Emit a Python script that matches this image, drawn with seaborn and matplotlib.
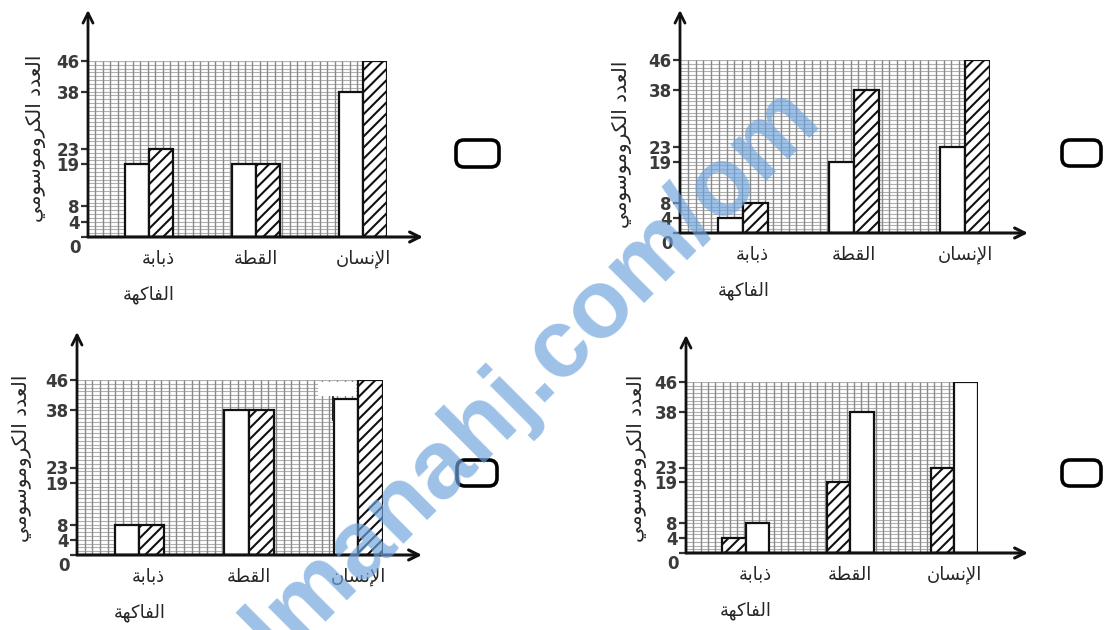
import numpy as np
import pandas as pd
import matplotlib
matplotlib.use('Agg')
import matplotlib.pyplot as plt
import seaborn as sns
from matplotlib.patches import FancyBboxPatch, Rectangle

# categories and labels
species = ['ذبابة الفاكهة', 'القطة', 'الإنسان']
y_ticks = [0, 4, 8, 19, 23, 38, 46]
y_label = 'العدد الكروموسومي'
watermark = 'almanahj.com/om'

# chromosome counts for each of the four answer options
a_plain = [4, 19, 23]
a_hatched = [8, 38, 46]
b_plain = [19, 19, 38]
b_hatched = [23, 19, 46]
c_plain = [8, 38, 46]
c_hatched = [4, 19, 23]
d_plain = [8, 38, 41]
d_hatched = [8, 38, 46]

# --- minimal arabic shaping (matplotlib has no text shaping) ---
FORMS = {
    'ا': ('\uFE8D', '\uFE8E', None, None),
    'إ': ('\uFE87', '\uFE88', None, None),
    'ب': ('\uFE8F', '\uFE90', '\uFE91', '\uFE92'),
    'ة': ('\uFE93', '\uFE94', None, None),
    'د': ('\uFEA9', '\uFEAA', None, None),
    'ذ': ('\uFEAB', '\uFEAC', None, None),
    'ر': ('\uFEAD', '\uFEAE', None, None),
    'س': ('\uFEB1', '\uFEB2', '\uFEB3', '\uFEB4'),
    'ط': ('\uFEC1', '\uFEC2', '\uFEC3', '\uFEC4'),
    'ع': ('\uFEC9', '\uFECA', '\uFECB', '\uFECC'),
    'ف': ('\uFED1', '\uFED2', '\uFED3', '\uFED4'),
    'ق': ('\uFED5', '\uFED6', '\uFED7', '\uFED8'),
    'ك': ('\uFED9', '\uFEDA', '\uFEDB', '\uFEDC'),
    'ل': ('\uFEDD', '\uFEDE', '\uFEDF', '\uFEE0'),
    'م': ('\uFEE1', '\uFEE2', '\uFEE3', '\uFEE4'),
    'ن': ('\uFEE5', '\uFEE6', '\uFEE7', '\uFEE8'),
    'ه': ('\uFEE9', '\uFEEA', '\uFEEB', '\uFEEC'),
    'و': ('\uFEED', '\uFEEE', None, None),
    'ي': ('\uFEF1', '\uFEF2', '\uFEF3', '\uFEF4'),
}
LAM_ALEF = {'ا': ('\uFEFB', '\uFEFC'), 'إ': ('\uFEF9', '\uFEFA')}


def shape_line(line):
    out = []
    prev_joins = False
    i = 0
    while i < len(line):
        c = line[i]
        nxt = line[i + 1] if i + 1 < len(line) else ''
        if c not in FORMS:
            out.append(c)
            prev_joins = False
            i += 1
            continue
        if c == 'ل' and nxt in LAM_ALEF:
            out.append(LAM_ALEF[nxt][1 if prev_joins else 0])
            prev_joins = False
            i += 2
            continue
        iso, fin, ini, med = FORMS[c]
        joins_next = ini is not None and nxt in FORMS
        if prev_joins and joins_next:
            out.append(med)
        elif prev_joins:
            out.append(fin)
        elif joins_next:
            out.append(ini)
        else:
            out.append(iso)
        prev_joins = joins_next
        i += 1
    return ''.join(reversed(out))


def ar(text):
    return '\n'.join(shape_line(l) for l in text.split('\n'))


def make_df(plain, hatched):
    return pd.DataFrame({'species': species * 2,
                         'kind': ['plain'] * 3 + ['hatched'] * 3,
                         'count': plain + hatched})


sns.set_style('white')
plt.rcParams['font.family'] = ['DejaVu Sans']
plt.rcParams['hatch.linewidth'] = 1.5

W, H = 1107, 630
fig = plt.figure(figsize=(W / 100, H / 100), dpi=100)

# pixel layout: grid box (l, r, t, b), y arrow top, x arrow tip, ylabel centre, option box
panels = [
    (make_df(b_plain, b_hatched), ['plain', 'hatched'],
     dict(grid=(88, 387, 61, 237), ytop=10, xtip=423, lab=(36, 138), box=(456, 140, 43, 27))),
    (make_df(a_plain, a_hatched), ['plain', 'hatched'],
     dict(grid=(680, 990, 60, 233), ytop=10, xtip=1028, lab=(622, 144), box=(1062, 140, 39, 26))),
    (make_df(d_plain, d_hatched), ['plain', 'hatched'],
     dict(grid=(77, 383, 380, 555), ytop=332, xtip=422, lab=(22, 458), box=(457, 460, 40, 26))),
    (make_df(c_plain, c_hatched), ['hatched', 'plain'],
     dict(grid=(686, 978, 382, 553), ytop=335, xtip=1028, lab=(637, 458), box=(1062, 460, 39, 26))),
]

xlim = (-0.57, 2.225)
for df, hue_order, lay in panels:
    l, r, t, b = lay['grid']
    ax = fig.add_axes([l / W, 1 - b / H, (r - l) / W, (b - t) / H])
    ax.patch.set_alpha(0)

    # graph paper background
    ax.hlines(np.arange(1, 47), *xlim, color='#b0b0b0', lw=0.8, zorder=0.5)
    ax.vlines(np.linspace(*xlim, 41)[1:], 0, 46, color='#8a8a8a', lw=1.0, zorder=0.5)

    sns.barplot(data=df, x='species', y='count', hue='kind', order=species,
                hue_order=hue_order, palette={'plain': 'white', 'hatched': 'white'},
                width=0.45, errorbar=None, edgecolor='#111111', linewidth=1.6,
                saturation=1, legend=False, ax=ax, zorder=2)
    for kind, cont in zip(hue_order, ax.containers):
        if kind == 'hatched':
            for p in cont:
                p.set_hatch('///')

    ax.set_xlim(xlim)
    ax.set_ylim(0, 46)
    for s in ax.spines.values():
        s.set_visible(False)

    # axes with arrow heads
    ax.annotate('', xy=(0, (b - lay['ytop']) / (b - t)), xytext=(0, 0),
                xycoords='axes fraction', annotation_clip=False,
                arrowprops=dict(arrowstyle='->', lw=2, color='#111111',
                                mutation_scale=18, shrinkA=0, shrinkB=0))
    ax.annotate('', xy=((lay['xtip'] - l) / (r - l), 0), xytext=(0, 0),
                xycoords='axes fraction', annotation_clip=False,
                arrowprops=dict(arrowstyle='->', lw=2.2, color='#111111',
                                mutation_scale=18, shrinkA=0, shrinkB=0))

    ax.set_yticks(y_ticks)
    ax.set_yticklabels(['' if v == 0 else str(v) for v in y_ticks],
                       fontweight='bold', color='#3a3a3a', fontsize=12)
    ax.tick_params(axis='y', length=5, width=1.6, color='#333333', pad=1, left=True)
    ax.annotate('0', xy=(0, 0), xycoords='axes fraction', xytext=(-5, -8),
                textcoords='offset points', ha='right', va='center',
                fontweight='bold', color='#3a3a3a', fontsize=12)

    ax.set_xticks(range(len(species)))
    ax.set_xticklabels([ar(s.replace(' ', '\n')) for s in species], fontsize=13,
                       linespacing=2.3, multialignment='right')
    ax.tick_params(axis='x', length=0, pad=9)
    ax.set_xlabel('')
    ax.set_ylabel('')

    lx, ly = lay['lab']
    ax.text((lx - l) / (r - l), (b - ly) / (b - t), ar(y_label), rotation=90,
            transform=ax.transAxes, ha='center', va='center', fontsize=14.5,
            rotation_mode='anchor')

# overlay for answer boxes, scan blemish and watermark
ov = fig.add_axes([0, 0, 1, 1], zorder=10)
ov.set_xlim(0, W)
ov.set_ylim(H, 0)
ov.axis('off')
ov.patch.set_alpha(0)
for _, _, lay in panels:
    x, y, w, h = lay['box']
    ov.add_patch(FancyBboxPatch((x, y), w, h, boxstyle='round,pad=0,rounding_size=8',
                                lw=2.6, ec='black', fc='white'))
ov.add_patch(Rectangle((318, 382), 38, 14, fc='white', ec='none'))
ov.plot([333, 333], [397, 420], color='#222222', lw=1.5)
ov.text(515, 395, watermark, rotation=45, ha='center', va='center', fontsize=70,
        fontweight='bold', color='#6fa3dc', alpha=0.68, family='Liberation Sans',
        rotation_mode='anchor')

fig.savefig('out.png', dpi=100, facecolor='white')
